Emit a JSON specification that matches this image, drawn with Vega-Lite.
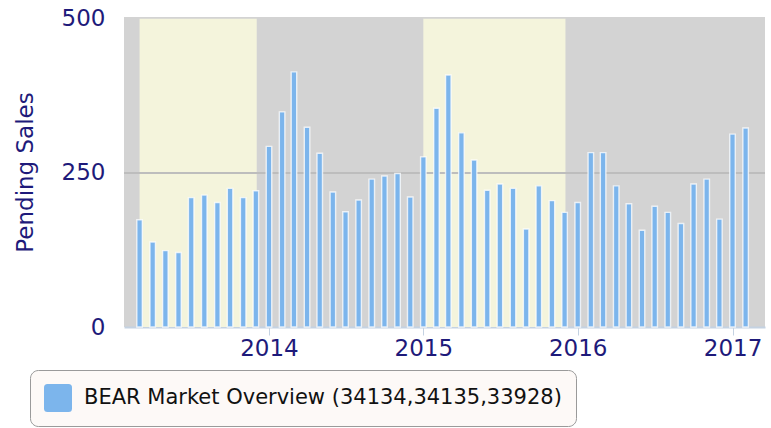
{
  "$schema": "https://vega.github.io/schema/vega-lite/v6.json",
  "width": 641,
  "height": 310,
  "autosize": {"type": "none"},
  "padding": {"left": 124, "top": 17, "right": 6, "bottom": 101},
  "background": "#ffffff",
  "config": {
    "font": "DejaVu Sans",
    "view": {"stroke": null, "fill": "#d3d3d3"}
  },
  "datasets": {
    "bands": [
      {"start": "2013/03/01", "end": "2013/12/03"},
      {"start": "2015/01/01", "end": "2015/12/03"}
    ],
    "sales": [
      {"date": "2013/03/01", "value": 174},
      {"date": "2013/04/01", "value": 138},
      {"date": "2013/05/01", "value": 124},
      {"date": "2013/06/01", "value": 121},
      {"date": "2013/07/01", "value": 210},
      {"date": "2013/08/01", "value": 214},
      {"date": "2013/09/01", "value": 202},
      {"date": "2013/10/01", "value": 225},
      {"date": "2013/11/01", "value": 210},
      {"date": "2013/12/01", "value": 221},
      {"date": "2014/01/01", "value": 293},
      {"date": "2014/02/01", "value": 349},
      {"date": "2014/03/01", "value": 414},
      {"date": "2014/04/01", "value": 324},
      {"date": "2014/05/01", "value": 282},
      {"date": "2014/06/01", "value": 219},
      {"date": "2014/07/01", "value": 187},
      {"date": "2014/08/01", "value": 206},
      {"date": "2014/09/01", "value": 240},
      {"date": "2014/10/01", "value": 245},
      {"date": "2014/11/01", "value": 249},
      {"date": "2014/12/01", "value": 211},
      {"date": "2015/01/01", "value": 276},
      {"date": "2015/02/01", "value": 355},
      {"date": "2015/03/01", "value": 409},
      {"date": "2015/04/01", "value": 315},
      {"date": "2015/05/01", "value": 271},
      {"date": "2015/06/01", "value": 222},
      {"date": "2015/07/01", "value": 232},
      {"date": "2015/08/01", "value": 225},
      {"date": "2015/09/01", "value": 159},
      {"date": "2015/10/01", "value": 229},
      {"date": "2015/11/01", "value": 205},
      {"date": "2015/12/01", "value": 186},
      {"date": "2016/01/01", "value": 202},
      {"date": "2016/02/01", "value": 283},
      {"date": "2016/03/01", "value": 283},
      {"date": "2016/04/01", "value": 229},
      {"date": "2016/05/01", "value": 200},
      {"date": "2016/06/01", "value": 157},
      {"date": "2016/07/01", "value": 196},
      {"date": "2016/08/01", "value": 186},
      {"date": "2016/09/01", "value": 168},
      {"date": "2016/10/01", "value": 232},
      {"date": "2016/11/01", "value": 240},
      {"date": "2016/12/01", "value": 175},
      {"date": "2017/01/01", "value": 313},
      {"date": "2017/02/01", "value": 323}
    ]
  },
  "layer": [
    {
      "data": {"name": "bands"},
      "mark": {"type": "rect", "color": "#f4f4dc"},
      "encoding": {
        "x": {
          "field": "start",
          "type": "temporal",
          "scale": {"domain": [{"year": 2013, "month": 2, "date": 4}, {"year": 2017, "month": 3, "date": 7}]},
          "axis": {
            "title": null,
            "values": [{"year": 2014, "month": 1, "date": 1}, {"year": 2015, "month": 1, "date": 1}, {"year": 2016, "month": 1, "date": 1}, {"year": 2017, "month": 1, "date": 1}],
            "format": "%Y",
            "grid": false,
            "domainColor": "#c4d2e2",
            "domainWidth": 2,
            "tickColor": "#c4d2e2",
            "tickSize": 8,
            "tickWidth": 1,
            "labelFontSize": 23,
            "labelColor": "#1e1a7a",
            "labelPadding": 2,
            "labelFont": "DejaVu Sans"
          }
        },
        "x2": {"field": "end"},
        "y": {
          "datum": 0,
          "type": "quantitative",
          "scale": {"domain": [0, 503], "nice": false},
          "axis": {
            "title": "Pending Sales",
            "values": [0, 250, 500],
            "grid": false,
            "domain": false,
            "ticks": false,
            "labelFontSize": 23,
            "labelColor": "#1e1a7a",
            "labelPadding": 19,
            "labelFont": "DejaVu Sans",
            "titleFontSize": 23,
            "titleFontWeight": "normal",
            "titleColor": "#1e1a7a",
            "titleFont": "DejaVu Sans",
            "titlePadding": 24
          }
        },
        "y2": {"datum": 500}
      }
    },
    {
      "data": {"values": [{"level": 250}]},
      "mark": {"type": "rule", "color": "#bdbdbd", "strokeWidth": 2},
      "encoding": {
        "y": {"field": "level", "type": "quantitative"}
      }
    },
    {
      "data": {"name": "sales"},
      "mark": {"type": "bar", "size": 5.5, "stroke": "#ffffff", "strokeWidth": 1.4, "strokeOpacity": 0.75},
      "encoding": {
        "x": {"field": "date", "type": "temporal"},
        "y": {"field": "value", "type": "quantitative"},
        "color": {
          "datum": "BEAR Market Overview (34134,34135,33928)",
          "scale": {"range": ["#7cb5ec"]},
          "legend": {
            "title": null,
            "orient": "none",
            "legendX": -94,
            "legendY": 353,
            "direction": "vertical",
            "fillColor": "#fdf9f7",
            "strokeColor": "#9a9a9a",
            "cornerRadius": 8,
            "padding": 14,
            "symbolType": "M -0.75 -1 H 0.75 Q 1 -1 1 -0.75 V 0.75 Q 1 1 0.75 1 H -0.75 Q -1 1 -1 0.75 V -0.75 Q -1 -1 -0.75 -1 Z",
            "symbolSize": 784,
            "symbolStrokeWidth": 0,
            "symbolFillColor": "#7cb5ec",
            "symbolOpacity": 1,
            "labelFontSize": 21,
            "labelColor": "#111111",
            "labelFont": "DejaVu Sans",
            "labelOffset": 12,
            "labelLimit": 0
          }
        }
      }
    }
  ]
}
